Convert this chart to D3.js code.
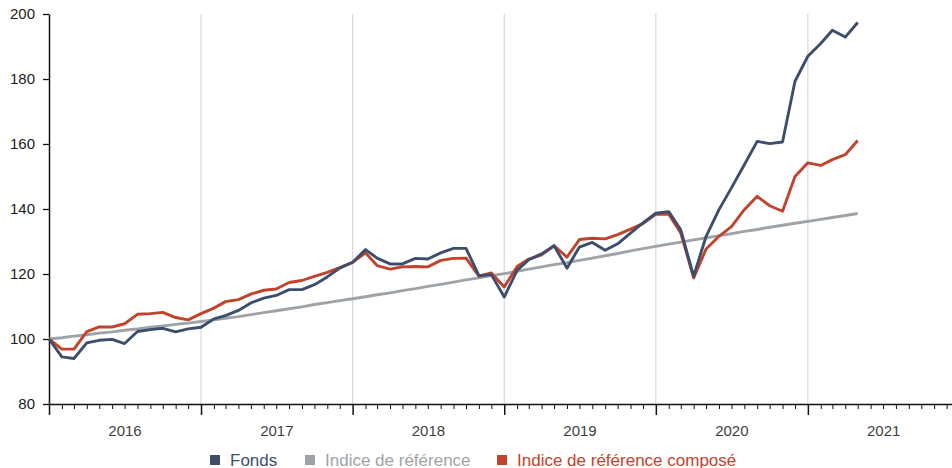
<!DOCTYPE html>
<html>
<head>
<meta charset="utf-8">
<script src="https://cdn.jsdelivr.net/npm/d3@7"></script>
<style>
  html, body { margin: 0; padding: 0; background: #fff; }
  svg { display: block; font-family: "Liberation Sans", Arial, sans-serif; }
</style>
</head>
<body>
<svg id="chart"></svg>
<script>
// monthly values, Jan 2016 .. May 2021
const startMonth = new Date(2016, 0, 1);
const endMonth = new Date(2021, 5, 1);

const fonds = [
  100.0, 94.5, 94.0, 98.8, 99.6, 99.9, 98.6, 102.3, 102.9, 103.3, 102.2, 103.1,
  103.6, 106.2, 107.2, 108.8, 111.1, 112.6, 113.4, 115.2, 115.2, 116.7, 119.1, 121.8,
  123.6, 127.5, 124.9, 123.1, 123.1, 124.8, 124.6, 126.5, 127.9, 127.9, 119.5, 119.8,
  112.9, 121.1, 124.4, 126.2, 128.7, 121.8, 128.3, 129.7, 127.3, 129.3, 132.6, 135.7,
  138.7, 139.2, 133.6, 119.3, 131.6, 139.8, 146.5, 153.6, 160.8, 160.1, 160.6, 179.3,
  187.0, 190.9, 195.0, 192.9, 197.4
];

const indice = [
  100.0, 100.4, 100.9, 101.3, 101.8, 102.2, 102.7, 103.1, 103.6, 104.0, 104.5, 104.9,
  105.4, 105.9, 106.4, 106.9, 107.5, 108.1, 108.7, 109.3, 109.9, 110.6, 111.2, 111.8,
  112.4, 113.0, 113.6, 114.2, 114.9, 115.5, 116.2, 116.8, 117.5, 118.2, 118.8, 119.5,
  120.1, 120.8, 121.5, 122.2, 122.9, 123.5, 124.2, 124.9, 125.6, 126.3, 127.1, 127.8,
  128.5, 129.2, 129.8, 130.5, 131.1, 131.8, 132.4, 133.1, 133.7, 134.4, 135.0, 135.6,
  136.2, 136.8, 137.4, 138.0, 138.6
];

const compose = [
  100.0, 96.9, 96.9, 102.3, 103.7, 103.7, 104.7, 107.6, 107.8, 108.2, 106.6, 105.9,
  107.8, 109.5, 111.5, 112.1, 113.8, 115.0, 115.4, 117.4, 118.0, 119.3, 120.5, 122.0,
  123.6, 126.5, 122.6, 121.5, 122.2, 122.3, 122.2, 124.2, 124.8, 124.9, 119.3, 120.3,
  116.0, 122.3, 124.6, 125.9, 128.7, 125.2, 130.6, 131.0, 130.8, 132.1, 133.8, 135.5,
  138.4, 138.4, 132.6, 118.8, 127.7, 131.6, 134.6, 139.8, 143.9, 141.0, 139.3, 150.0,
  154.2, 153.4, 155.2, 156.7, 161.1
];

const yTicks = [80, 100, 120, 140, 160, 180, 200];
const years = [2016, 2017, 2018, 2019, 2020, 2021];

const seriesNames = ["Fonds", "Indice de référence", "Indice de référence composé"];
const seriesColors = ["#3d4e6d", "#9ea3a8", "#c0432b"];

const width = 952;
const height = 468;

const svg = d3.select("#chart")
  .attr("width", width)
  .attr("height", height);

const months = d3.timeMonth.range(startMonth, endMonth);

// scales
const xScale = d3.scaleTime()
  .domain([new Date(2016, 0, 1), new Date(2021, 11, 14)])
  .range([49, 952]);

const yScale = d3.scaleLinear()
  .domain([80, 200])
  .range([404, 14]);

// vertical grid lines at each new year
svg.append("g")
  .selectAll("line")
  .data(years.slice(1))
  .enter()
  .append("line")
  .attr("x1", d => xScale(new Date(d, 0, 1)))
  .attr("x2", d => xScale(new Date(d, 0, 1)))
  .attr("y1", yScale(200))
  .attr("y2", yScale(80))
  .style("stroke", "#d3d8de")
  .style("stroke-width", 1.2);

// x axis: month ticks, longer ones on january
const xAxis = svg.append("g")
  .attr("transform", "translate(0," + yScale(80) + ")")
  .call(
    d3.axisBottom(xScale)
      .ticks(d3.timeMonth.every(1))
      .tickSize(5)
      .tickFormat("")
  );
xAxis.select(".domain")
  .attr("d", "M49,0.5H952")
  .style("stroke", "#111")
  .style("stroke-width", 1.3);
xAxis.selectAll(".tick line")
  .attr("y2", d => (d.getMonth() === 0 ? 11 : 5))
  .style("stroke", "#111")
  .style("stroke-width", d => (d.getMonth() === 0 ? 1.5 : 1));

// year labels centred in the middle of each year
svg.append("g")
  .selectAll("text")
  .data(years)
  .enter()
  .append("text")
  .attr("x", d => (xScale(new Date(d, 0, 1)) + xScale(new Date(d + 1, 0, 1))) / 2)
  .attr("y", 436)
  .attr("text-anchor", "middle")
  .style("font-size", "15px")
  .style("fill", "#3f3f3f")
  .text(d => d);

// y axis
const yAxis = svg.append("g")
  .attr("transform", "translate(49,0)")
  .call(d3.axisLeft(yScale).tickValues(yTicks).tickSize(6).tickSizeOuter(0));
yAxis.select(".domain").style("stroke", "#111").style("stroke-width", 1.5);
yAxis.selectAll(".tick line").style("stroke", "#111").style("stroke-width", 1.3);
yAxis.selectAll(".tick text")
  .attr("x", -14)
  .style("font-size", "15px")
  .style("font-family", "'Liberation Sans', Arial, sans-serif")
  .style("fill", "#1a1a1a");

// lines
const line = d3.line()
  .x((d, i) => xScale(months[i]))
  .y(d => yScale(d));

const allSeries = [indice, compose, fonds];
const drawColors = [seriesColors[1], seriesColors[2], seriesColors[0]];

svg.append("g")
  .selectAll("path")
  .data(allSeries)
  .enter()
  .append("path")
  .attr("d", d => line(d))
  .style("fill", "none")
  .style("stroke", (d, i) => drawColors[i])
  .style("stroke-width", 2.9)
  .style("stroke-linejoin", "round");

// legend
const legendX = [210, 305, 497];
const legend = svg.append("g")
  .selectAll("g")
  .data(seriesNames)
  .enter()
  .append("g")
  .attr("transform", (d, i) => "translate(" + legendX[i] + ",455)");
legend.append("rect")
  .attr("width", 10)
  .attr("height", 10)
  .style("fill", (d, i) => seriesColors[i]);
legend.append("text")
  .attr("x", 20)
  .attr("y", 10.5)
  .style("font-size", "17px")
  .style("fill", (d, i) => seriesColors[i])
  .text(d => d);
</script>
</body>
</html>
